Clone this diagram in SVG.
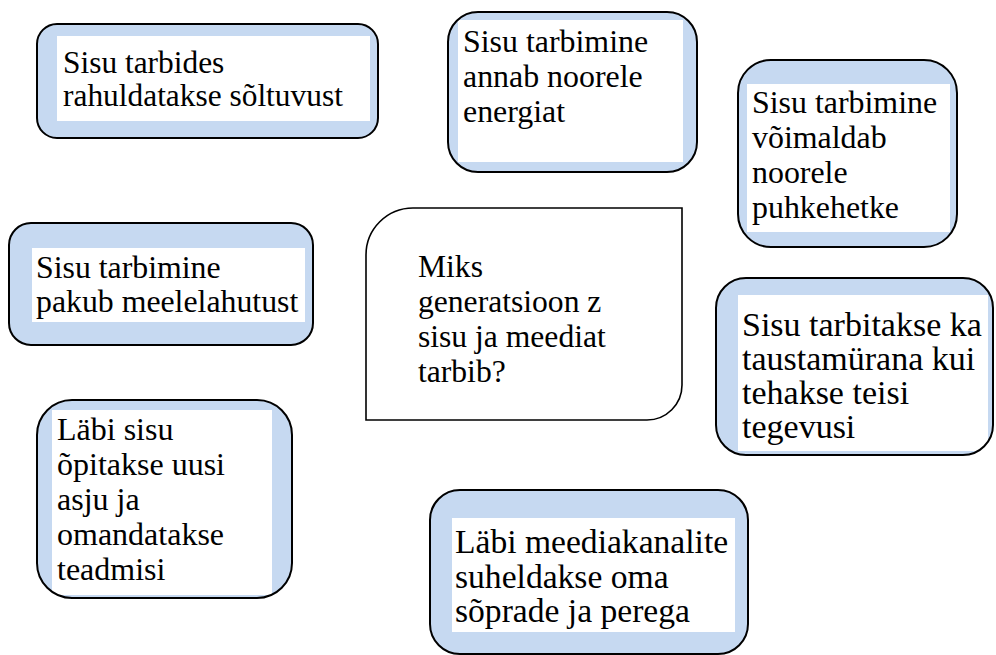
<svg xmlns="http://www.w3.org/2000/svg" width="996" height="655" viewBox="0 0 996 655">
  <style>
    .fillb { fill: #c6d9f1; }
    .edge { fill: none; stroke: #000; stroke-width: 2; }
    .pad { fill: #fff; }
    .center { fill: #fff; stroke: #000; stroke-width: 1.6; }
    text { font-family: 'Liberation Serif', 'Times New Roman', Times, serif; fill: #000; }
  </style>
  <defs>
    <clipPath id="c1"><rect x="37" y="24" width="341" height="114" rx="20"/></clipPath>
    <clipPath id="c2"><rect x="448" y="12" width="249" height="160" rx="30"/></clipPath>
    <clipPath id="c3"><rect x="738" y="60" width="219" height="187" rx="33"/></clipPath>
    <clipPath id="c4"><rect x="9" y="223" width="304" height="122" rx="22"/></clipPath>
    <clipPath id="c6"><rect x="716" y="278" width="277" height="177" rx="30"/></clipPath>
    <clipPath id="c7"><rect x="37" y="400" width="255" height="198" rx="35"/></clipPath>
    <clipPath id="c8"><rect x="430" y="490" width="318" height="164" rx="30"/></clipPath>
  </defs>
  <rect width="996" height="655" fill="#fff"/>

  <g id="connectors"></g>

  <g id="node-soltuvus">
    <rect class="fillb" x="37" y="24" width="341" height="114" rx="20"/>
    <rect class="pad" x="57" y="36" width="313" height="85" clip-path="url(#c1)"/>
    <rect class="edge" x="37" y="24" width="341" height="114" rx="20"/>
    <text font-size="31.4"><tspan x="63" y="73">Sisu tarbides</tspan><tspan x="63" y="106">rahuldatakse sõltuvust</tspan></text>
  </g>

  <g id="node-energia">
    <rect class="fillb" x="448" y="12" width="249" height="160" rx="30"/>
    <rect class="pad" x="458" y="20" width="225" height="142" clip-path="url(#c2)"/>
    <rect class="edge" x="448" y="12" width="249" height="160" rx="30"/>
    <text font-size="31.9"><tspan x="463" y="52">Sisu tarbimine</tspan><tspan x="463" y="87">annab noorele</tspan><tspan x="463" y="122">energiat</tspan></text>
  </g>

  <g id="node-puhkehetk">
    <rect class="fillb" x="738" y="60" width="219" height="187" rx="33"/>
    <rect class="pad" x="747" y="84" width="203" height="148" clip-path="url(#c3)"/>
    <rect class="edge" x="738" y="60" width="219" height="187" rx="33"/>
    <text font-size="31.9"><tspan x="752" y="113">Sisu tarbimine</tspan><tspan x="752" y="148">võimaldab</tspan><tspan x="752" y="183">noorele</tspan><tspan x="752" y="218">puhkehetke</tspan></text>
  </g>

  <g id="node-meelelahutus">
    <rect class="fillb" x="9" y="223" width="304" height="122" rx="22"/>
    <rect class="pad" x="32" y="248" width="273" height="74" clip-path="url(#c4)"/>
    <rect class="edge" x="9" y="223" width="304" height="122" rx="22"/>
    <text font-size="31.8"><tspan x="36" y="278">Sisu tarbimine</tspan><tspan x="36" y="312">pakub meelelahutust</tspan></text>
  </g>

  <g id="node-kusimus">
    <path class="center" d="M366,420 L366,255 A47,47 0 0 1 413,208 L682,208 L682,385 A35,35 0 0 1 647,420 Z"/>
    <text font-size="31.6"><tspan x="418" y="277">Miks</tspan><tspan x="418" y="312">generatsioon z</tspan><tspan x="418" y="347">sisu ja meediat</tspan><tspan x="418" y="382">tarbib?</tspan></text>
  </g>

  <g id="node-taustamura">
    <rect class="fillb" x="716" y="278" width="277" height="177" rx="30"/>
    <rect class="pad" x="738" y="295" width="250" height="156" clip-path="url(#c6)"/>
    <rect class="edge" x="716" y="278" width="277" height="177" rx="30"/>
    <text font-size="34"><tspan x="742" y="336">Sisu tarbitakse ka</tspan><tspan x="742" y="370">taustamürana kui</tspan><tspan x="742" y="404">tehakse teisi</tspan><tspan x="742" y="438">tegevusi</tspan></text>
  </g>

  <g id="node-oppimine">
    <rect class="fillb" x="37" y="400" width="255" height="198" rx="35"/>
    <rect class="pad" x="52" y="410" width="220" height="185" clip-path="url(#c7)"/>
    <rect class="edge" x="37" y="400" width="255" height="198" rx="35"/>
    <text font-size="32"><tspan x="57" y="440">Läbi sisu</tspan><tspan x="57" y="475">õpitakse uusi</tspan><tspan x="57" y="510">asju ja</tspan><tspan x="57" y="545">omandatakse</tspan><tspan x="57" y="580">teadmisi</tspan></text>
  </g>

  <g id="node-suhtlus">
    <rect class="fillb" x="430" y="490" width="318" height="164" rx="30"/>
    <rect class="pad" x="452" y="518" width="283" height="114" clip-path="url(#c8)"/>
    <rect class="edge" x="430" y="490" width="318" height="164" rx="30"/>
    <text font-size="33.6"><tspan x="455" y="553">Läbi meediakanalite</tspan><tspan x="455" y="588">suheldakse oma</tspan><tspan x="455" y="622">sõprade ja perega</tspan></text>
  </g>
</svg>
